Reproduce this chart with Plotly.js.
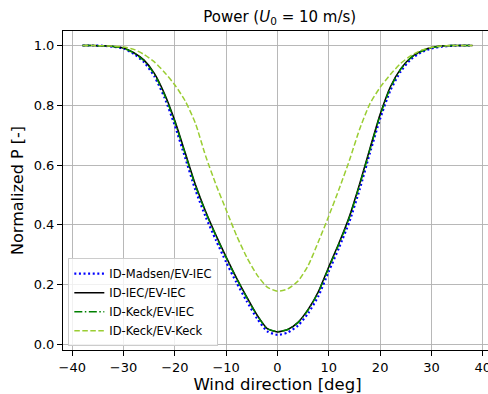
<!DOCTYPE html>
<html>
<head>
<meta charset="utf-8">
<script src="https://cdn.plot.ly/plotly-3.0.1.min.js"></script>
<style>
html, body { margin: 0; padding: 0; overflow: hidden; background: #fff; }
#chart { width: 492px; height: 394px; }
</style>
</head>
<body>
<div id="chart"></div>
<script>
// Wind direction [deg]
const windDir = [-38,-36,-34,-32,-30,-28,-26,-24,-22,-20,-18,-16,-14,-12,-10,-8,-6,-4,-2,0,
                 2,4,6,8,10,12,14,16,18,20,22,24,26,28,30,32,34,36,38];

// Normalized power per model
const madsenIEC = [1.0,1.0,0.999,0.996,0.99,0.972,0.944,0.897,0.825,0.732,0.625,0.517,0.427,0.349,0.275,0.207,0.145,0.087,0.044,0.032,
                   0.04,0.063,0.105,0.163,0.245,0.324,0.41,0.518,0.64,0.755,0.85,0.913,0.954,0.977,0.99,0.996,0.999,1.0,1.0];
const iecIEC    = [1.0,1.0,0.999,0.997,0.992,0.976,0.951,0.907,0.838,0.748,0.642,0.535,0.445,0.366,0.292,0.223,0.159,0.099,0.053,0.042,
                   0.05,0.074,0.118,0.178,0.26,0.34,0.428,0.537,0.655,0.77,0.862,0.922,0.96,0.981,0.993,0.998,1.0,1.0,1.0];
const keckIEC   = [1.0,1.0,0.999,0.997,0.991,0.975,0.949,0.904,0.834,0.744,0.638,0.531,0.442,0.363,0.29,0.221,0.157,0.098,0.053,0.043,
                   0.05,0.073,0.116,0.176,0.257,0.337,0.424,0.533,0.651,0.766,0.859,0.92,0.959,0.98,0.992,0.998,1.0,1.0,1.0];
const keckKeck  = [1.0,1.0,0.999,0.998,0.995,0.987,0.97,0.945,0.91,0.868,0.815,0.74,0.63,0.535,0.45,0.365,0.292,0.233,0.192,0.178,
                   0.186,0.212,0.265,0.345,0.43,0.52,0.615,0.72,0.805,0.86,0.903,0.94,0.966,0.984,0.994,0.998,1.0,1.0,1.0];

const seriesNames = ["ID-Madsen/EV-IEC", "ID-IEC/EV-IEC", "ID-Keck/EV-IEC", "ID-Keck/EV-Keck"];
const xTicks = [-40,-30,-20,-10,0,10,20,30,40];
const yTicks = [0.0,0.2,0.4,0.6,0.8,1.0];

const traces = [
  {x: windDir, y: madsenIEC, name: seriesNames[0], mode: "lines", line: {shape: "spline", smoothing: 0.6,
   color: "#0000ff", width: 2.2, dash: "2px,2.6px"}},
  {x: windDir, y: iecIEC, name: seriesNames[1], mode: "lines", line: {shape: "spline", smoothing: 0.6,
   color: "#000000", width: 1.5}},
  {x: windDir, y: keckIEC, name: seriesNames[2], mode: "lines", line: {shape: "spline", smoothing: 0.6,
   color: "#008000", width: 1.5, dash: "8px,2.5px,1.5px,2.5px"}},
  {x: windDir, y: keckKeck, name: seriesNames[3], mode: "lines", line: {shape: "spline", smoothing: 0.6,
   color: "#9acd32", width: 1.5, dash: "5.5px,2.5px"}}
];

const font = "DejaVu Sans, sans-serif";
const layout = {
  width: 492, height: 394,
  margin: {l: 63, r: 0, t: 31, b: 44, pad: 0},
  paper_bgcolor: "#ffffff", plot_bgcolor: "#ffffff",
  font: {family: font, color: "#000000", size: 13},
  title: {text: "Power (<i>U</i><sub>0</sub> = 10 m/s)", font: {family: font, size: 15, color: "#000"},
          x: 0.5685, xanchor: "center", y: 0.945, yanchor: "bottom"},
  showlegend: true,
  legend: {x: 0.0124, y: 0.012, xanchor: "left", yanchor: "bottom",
           bgcolor: "rgba(255,255,255,0.8)", bordercolor: "#cccccc", borderwidth: 1,
           font: {family: font, size: 11.5, color: "#000"}, tracegroupgap: 0},
  xaxis: {
    range: [-41.8, 41.8], tickvals: xTicks, ticktext: xTicks.map(v => v < 0 ? "\u2212" + Math.abs(v) : String(v)),
    showgrid: true, gridcolor: "#b0b0b0", gridwidth: 0.9, zeroline: false,
    showline: true, linecolor: "#000", linewidth: 1, mirror: true,
    ticks: "outside", ticklen: 5, tickwidth: 1, tickcolor: "#000",
    tickfont: {family: font, size: 13, color: "#000"},
    title: {text: "Wind direction [deg]", font: {family: font, size: 16.5, color: "#000"}, standoff: 4}
  },
  yaxis: {
    range: [-0.0185, 1.0485], tickvals: yTicks, tickformat: ".1f",
    showgrid: true, gridcolor: "#b0b0b0", gridwidth: 0.9, zeroline: false,
    showline: true, linecolor: "#000", linewidth: 1, mirror: true,
    ticks: "outside", ticklen: 5, tickwidth: 1, tickcolor: "#000",
    tickfont: {family: font, size: 13, color: "#000"},
    title: {text: "Normalized P [-]", font: {family: font, size: 16, color: "#000"}, standoff: 6}
  }
};

Plotly.newPlot("chart", traces, layout, {displayModeBar: false, staticPlot: true});
</script>
</body>
</html>
